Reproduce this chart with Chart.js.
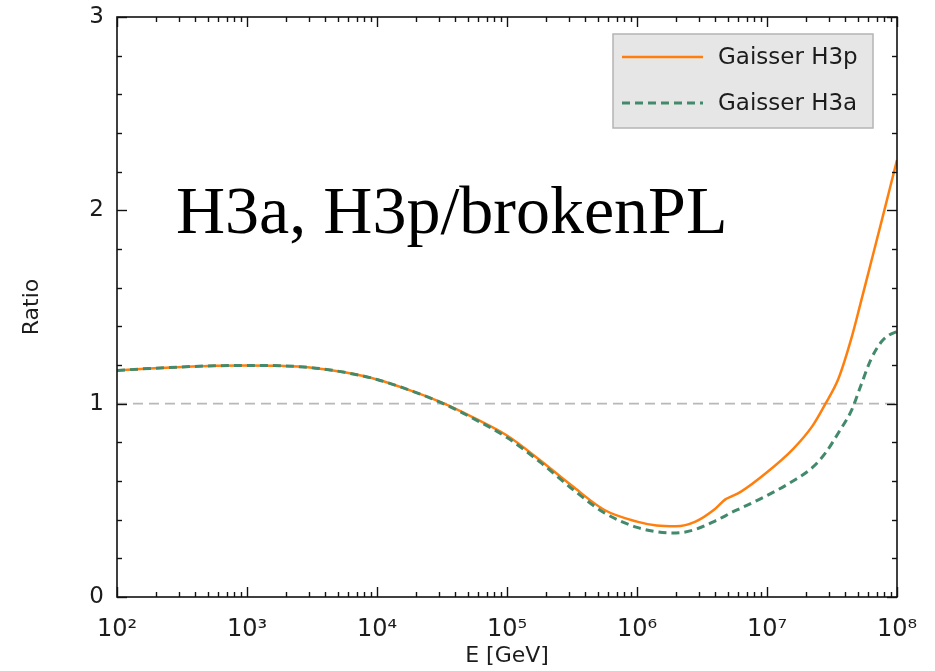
<!DOCTYPE html>
<html><head><meta charset="utf-8">
<script src="https://cdn.jsdelivr.net/npm/chart.js@4.4.1/dist/chart.umd.min.js"></script>
<style>html,body{margin:0;padding:0;background:#fff}#wrap{width:935px;height:671px;position:relative}</style>
</head><body><div id="wrap"><canvas id="c"></canvas></div>
<script>
// ---- data ----
const logEnergy = [2.0, 2.25, 2.5, 2.75, 3.0, 3.25, 3.5, 3.75, 4.0, 4.25, 4.5, 4.75, 5.0, 5.25, 5.5, 5.75, 6.0, 6.15, 6.3, 6.45, 6.6, 6.68, 6.72, 6.8, 7.0, 7.2, 7.35, 7.45, 7.55, 7.65, 7.72, 7.8, 7.88, 7.94, 8.0];
const ratioH3p = [1.172, 1.182, 1.19, 1.196, 1.198, 1.196, 1.186, 1.162, 1.125, 1.07, 1.005, 0.925, 0.835, 0.71, 0.575, 0.45, 0.39, 0.37, 0.366, 0.39, 0.455, 0.505, 0.518, 0.545, 0.645, 0.765, 0.885, 1.0, 1.13, 1.34, 1.52, 1.73, 1.94, 2.1, 2.26];
const ratioH3a = [1.172, 1.182, 1.19, 1.196, 1.198, 1.196, 1.186, 1.162, 1.125, 1.07, 1.003, 0.92, 0.825, 0.70, 0.56, 0.435, 0.36, 0.338, 0.331, 0.35, 0.393, 0.42, 0.435, 0.46, 0.525, 0.6, 0.67, 0.745, 0.85, 0.965, 1.09, 1.23, 1.32, 1.355, 1.373];
const seriesNames = ['Gaisser H3p', 'Gaisser H3a'];
const xTickExponents = [2, 3, 4, 5, 6, 7, 8];
const yTickValues = [0, 1, 2, 3];
const referenceLevel = 1;
const annotationText = 'H3a, H3p/brokenPL';
const xTitle = 'E [GeV]';
const yTitle = 'Ratio';

const SUP = {'0':'⁰','1':'¹','2':'²','3':'³','4':'⁴','5':'⁵','6':'⁶','7':'⁷','8':'⁸','9':'⁹'};
const pow10Label = e => '10' + String(e).split('').map(c => SUP[c]).join('');
const toPoints = vals => logEnergy.map((l, i) => ({x: Math.pow(10, l), y: vals[i]}));

const FONT = '"DejaVu Sans", sans-serif';
const TEXT = '#1c1c1c';

const framePlugin = {
  id: 'frame',
  afterDraw(chart) {
    const {ctx, chartArea: {left, right, top, bottom}, scales: {x, y}} = chart;
    ctx.save();
    ctx.strokeStyle = '#111';
    ctx.lineWidth = 1.6;
    ctx.strokeRect(left, top, right - left, bottom - top);
    ctx.lineWidth = 1.4;
    const seg = (x1, y1, x2, y2) => { ctx.beginPath(); ctx.moveTo(x1, y1); ctx.lineTo(x2, y2); ctx.stroke(); };
    for (let k = 0; k <= 15; k++) {
      const v = k * 0.2;
      const py = Math.round(y.getPixelForValue(v)) + 0.5;
      const L = (k % 5 === 0) ? 10 : 5;
      seg(left, py, left + L, py);
      seg(right, py, right - L, py);
    }
    for (let e = xTickExponents[0]; e <= xTickExponents[xTickExponents.length - 1]; e++) {
      for (let m = 1; m <= 9; m++) {
        if (e === xTickExponents[xTickExponents.length - 1] && m > 1) break;
        const px = Math.round(x.getPixelForValue(m * Math.pow(10, e))) + 0.5;
        const L = m === 1 ? 10 : 5;
        seg(px, bottom, px, bottom - L);
        seg(px, top, px, top + L);
      }
    }
    ctx.restore();
  }
};

const legendPlugin = {
  id: 'boxLegend',
  afterDraw(chart) {
    const {ctx} = chart;
    const ds = chart.data.datasets;
    ctx.save();
    ctx.fillStyle = '#e6e6e6';
    ctx.strokeStyle = '#b4b4b4';
    ctx.lineWidth = 1.5;
    ctx.fillRect(613, 34, 260, 94);
    ctx.strokeRect(613, 34, 260, 94);
    [0, 1].forEach(i => {
      const yy = 57 + i * 46;
      ctx.strokeStyle = ds[i].borderColor;
      ctx.lineWidth = ds[i].borderWidth;
      ctx.setLineDash(ds[i].borderDash || []);
      ctx.beginPath(); ctx.moveTo(622, yy); ctx.lineTo(703, yy); ctx.stroke();
      ctx.setLineDash([]);
      ctx.fillStyle = TEXT;
      ctx.font = '23px ' + FONT;
      ctx.textBaseline = 'middle';
      ctx.textAlign = 'left';
      ctx.fillText(ds[i].label, 718, yy + 1);
    });
    ctx.restore();
  }
};

const annotationPlugin = {
  id: 'annot',
  afterDraw(chart) {
    const {ctx} = chart;
    ctx.save();
    ctx.fillStyle = '#000';
    ctx.font = '68px "Liberation Serif", serif';
    ctx.textBaseline = 'alphabetic';
    ctx.textAlign = 'left';
    ctx.fillText(annotationText, 176, 233);
    ctx.restore();
  }
};

new Chart(document.getElementById('c'), {
  type: 'line',
  data: {
    datasets: [
      {label: seriesNames[0], data: toPoints(ratioH3p), borderColor: '#ff7f0e', borderWidth: 2.5, pointRadius: 0, cubicInterpolationMode: 'monotone', fill: false, order: 1},
      {label: seriesNames[1], data: toPoints(ratioH3a), borderColor: '#43896b', borderWidth: 3, borderDash: [8, 5], pointRadius: 0, cubicInterpolationMode: 'monotone', fill: false, order: 0},
      {label: 'reference', data: [{x: Math.pow(10, xTickExponents[0]), y: referenceLevel}, {x: Math.pow(10, xTickExponents[xTickExponents.length - 1]), y: referenceLevel}], borderColor: '#b8b8b8', borderWidth: 1.8, borderDash: [10, 6], pointRadius: 0, fill: false, order: 2}
    ]
  },
  options: {
    responsive: true,
    maintainAspectRatio: false,
    animation: false,
    layout: {padding: {top: 17, right: 38, left: 0, bottom: 0}},
    plugins: {legend: {display: false}, tooltip: {enabled: false}},
    scales: {
      x: {
        type: 'logarithmic', position: 'bottom',
        min: Math.pow(10, xTickExponents[0]), max: Math.pow(10, xTickExponents[xTickExponents.length - 1]),
        grid: {display: false}, border: {display: false},
        afterBuildTicks: s => { s.ticks = xTickExponents.map(e => ({value: Math.pow(10, e), major: true})); },
        ticks: {
          autoSkip: false, maxRotation: 0, padding: 10, color: TEXT,
          font: {family: FONT, size: 24},
          callback: v => pow10Label(Math.round(Math.log10(v)))
        },
        title: {display: true, text: xTitle, color: TEXT, font: {family: FONT, size: 22}, padding: {top: 0, bottom: 2}},
        afterFit: s => { s.height = 74; s.paddingLeft = 0; s.paddingRight = 0; }
      },
      y: {
        type: 'linear', position: 'left', min: 0, max: 3,
        grid: {display: false}, border: {display: false},
        afterBuildTicks: s => { s.ticks = yTickValues.map(v => ({value: v})); },
        ticks: {padding: 5, color: TEXT, font: {family: FONT, size: 23}, callback: v => String(v)},
        title: {display: true, text: yTitle, color: TEXT, font: {family: FONT, size: 22}, padding: {top: 19, bottom: 0}},
        afterFit: s => { s.width = 117; s.paddingTop = 0; s.paddingBottom = 0; }
      }
    }
  },
  plugins: [framePlugin, legendPlugin, annotationPlugin]
});
</script>
</body></html>
